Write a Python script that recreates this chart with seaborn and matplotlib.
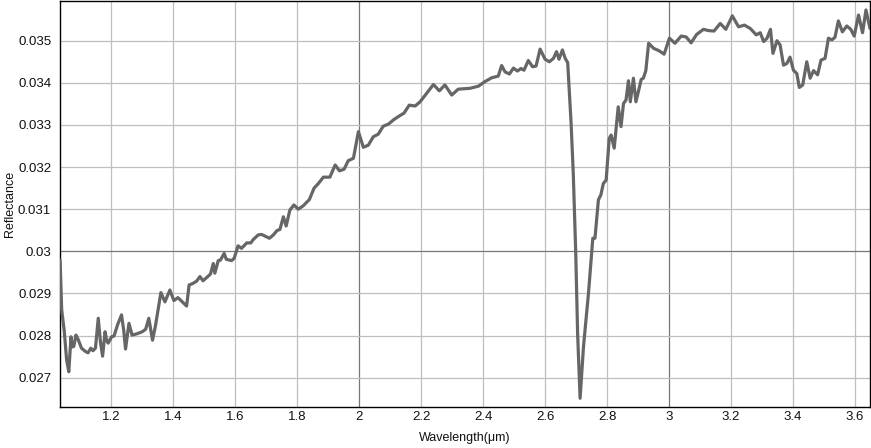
import numpy as np
import pandas as pd
import matplotlib
matplotlib.use("Agg")
import matplotlib.pyplot as plt
import seaborn as sns
from matplotlib.ticker import FuncFormatter, MultipleLocator

wavelength = [
    1.036, 1.041, 1.049, 1.057, 1.064, 1.071, 1.075, 1.080, 1.087, 1.094,
    1.105, 1.118, 1.126, 1.135, 1.142, 1.150, 1.159, 1.166, 1.173, 1.181,
    1.186, 1.191, 1.202, 1.210, 1.221, 1.234, 1.241, 1.247, 1.258, 1.268,
    1.283, 1.301, 1.312, 1.322, 1.334, 1.343, 1.361, 1.374, 1.390, 1.403,
    1.416, 1.430, 1.444, 1.452, 1.465, 1.476, 1.487, 1.497, 1.512, 1.521,
    1.530, 1.535, 1.546, 1.553, 1.565, 1.572, 1.589, 1.597, 1.610, 1.621,
    1.638, 1.651, 1.659, 1.675, 1.686, 1.697, 1.711, 1.724, 1.735, 1.745,
    1.756, 1.765, 1.777, 1.790, 1.804, 1.820, 1.840, 1.855, 1.869, 1.885,
    1.906, 1.923, 1.937, 1.952, 1.965, 1.982, 1.998, 2.014, 2.030, 2.046,
    2.062, 2.078, 2.095, 2.111, 2.127, 2.145, 2.162, 2.181, 2.197, 2.218,
    2.240, 2.259, 2.277, 2.299, 2.320, 2.358, 2.385, 2.406, 2.428, 2.449,
    2.460, 2.471, 2.485, 2.498, 2.511, 2.522, 2.532, 2.546, 2.560, 2.571,
    2.584, 2.600, 2.614, 2.627, 2.637, 2.645, 2.656, 2.665, 2.673, 2.684,
    2.691, 2.699, 2.705, 2.713, 2.724, 2.740, 2.754, 2.761, 2.772, 2.780,
    2.788, 2.797, 2.807, 2.813, 2.823, 2.836, 2.845, 2.853, 2.861, 2.869,
    2.875, 2.885, 2.893, 2.901, 2.910, 2.917, 2.925, 2.934, 2.950, 2.968,
    2.984, 3.001, 3.019, 3.039, 3.055, 3.071, 3.089, 3.111, 3.127, 3.145,
    3.165, 3.183, 3.204, 3.224, 3.243, 3.262, 3.281, 3.294, 3.305, 3.316,
    3.327, 3.335, 3.348, 3.358, 3.369, 3.380, 3.390, 3.401, 3.412, 3.420,
    3.431, 3.444, 3.455, 3.466, 3.479, 3.490, 3.503, 3.514, 3.525, 3.535,
    3.546, 3.559, 3.573, 3.586, 3.597, 3.611, 3.624, 3.635, 3.648,
]

reflectance = [
    0.02979, 0.02861, 0.02813, 0.02742, 0.02714, 0.02797, 0.02773, 0.02774, 0.02801, 0.02791,
    0.02770, 0.02762, 0.02759, 0.02770, 0.02764, 0.02770, 0.02841, 0.02785, 0.02751, 0.02809,
    0.02789, 0.02782, 0.02797, 0.02799, 0.02825, 0.02849, 0.02813, 0.02768, 0.02829, 0.02801,
    0.02804, 0.02809, 0.02815, 0.02841, 0.02789, 0.02821, 0.02902, 0.02880, 0.02908, 0.02883,
    0.02890, 0.02880, 0.02870, 0.02920, 0.02924, 0.02929, 0.02940, 0.02930, 0.02940, 0.02946,
    0.02971, 0.02948, 0.02978, 0.02979, 0.02995, 0.02981, 0.02978, 0.02983, 0.03013, 0.03007,
    0.03020, 0.03020, 0.03028, 0.03039, 0.03040, 0.03036, 0.03031, 0.03039, 0.03049, 0.03052,
    0.03082, 0.03060, 0.03098, 0.03110, 0.03100, 0.03108, 0.03123, 0.03150, 0.03161, 0.03176,
    0.03176, 0.03205, 0.03191, 0.03195, 0.03215, 0.03221, 0.03284, 0.03247, 0.03252, 0.03272,
    0.03278, 0.03297, 0.03302, 0.03312, 0.03320, 0.03328, 0.03347, 0.03345, 0.03355, 0.03375,
    0.03396, 0.03381, 0.03395, 0.03371, 0.03385, 0.03387, 0.03392, 0.03403, 0.03412, 0.03416,
    0.03441, 0.03426, 0.03421, 0.03435, 0.03428, 0.03434, 0.03430, 0.03453, 0.03438, 0.03440,
    0.03480, 0.03456, 0.03450, 0.03458, 0.03474, 0.03456, 0.03478, 0.03458, 0.03448, 0.03304,
    0.03185, 0.02995, 0.02805, 0.02651, 0.02774, 0.02900, 0.03031, 0.03031, 0.03122, 0.03134,
    0.03161, 0.03169, 0.03268, 0.03276, 0.03245, 0.03343, 0.03296, 0.03351, 0.03359, 0.03405,
    0.03355, 0.03411, 0.03355, 0.03379, 0.03408, 0.03411, 0.03429, 0.03494, 0.03482, 0.03476,
    0.03468, 0.03506, 0.03494, 0.03511, 0.03509, 0.03495, 0.03515, 0.03527, 0.03524, 0.03523,
    0.03541, 0.03527, 0.03559, 0.03533, 0.03537, 0.03529, 0.03514, 0.03519, 0.03498, 0.03506,
    0.03527, 0.03470, 0.03500, 0.03490, 0.03442, 0.03446, 0.03461, 0.03430, 0.03422, 0.03389,
    0.03395, 0.03450, 0.03411, 0.03429, 0.03419, 0.03454, 0.03458, 0.03506, 0.03502, 0.03508,
    0.03547, 0.03521, 0.03535, 0.03527, 0.03511, 0.03561, 0.03519, 0.03573, 0.03529,
]

x_label = "Wavelength(μm)"
y_label = "Reflectance"

df = pd.DataFrame({"wavelength": wavelength, "reflectance": reflectance})

sns.set_style("white")
plt.rcParams["font.family"] = ["Liberation Sans", "DejaVu Sans"]

fig = plt.figure(figsize=(8.71, 4.48), dpi=100)
ax = fig.add_axes([59.5 / 871, 1 - 407.3 / 448, (870 - 59.5) / 871, (407.3 - 1) / 448])

sns.lineplot(data=df, x="wavelength", y="reflectance", ax=ax,
             color="#666666", linewidth=2.3, zorder=3)

ax.set_xlim(1.034, 3.648)
ax.set_ylim(0.026296, 0.035943)
ax.xaxis.set_major_locator(MultipleLocator(0.2))
ax.yaxis.set_major_locator(MultipleLocator(0.001))
fmt = FuncFormatter(lambda v, p: "%g" % round(v, 6))
ax.xaxis.set_major_formatter(fmt)
ax.yaxis.set_major_formatter(fmt)

ax.grid(True, color="#bfbfbf", linewidth=0.9, zorder=0)
ax.set_axisbelow(True)
fig.canvas.draw()
for t in ax.xaxis.get_major_ticks():
    v = t.get_loc()
    if abs(v - round(v)) < 1e-6:
        t.gridline.set_color("#777777")
for t in ax.yaxis.get_major_ticks():
    v = t.get_loc()
    if abs(v - 0.03) < 1e-7:
        t.gridline.set_color("#777777")

ax.tick_params(axis="x", length=0, labelsize=9.5, colors="#111111", pad=3)
ax.tick_params(axis="y", length=0, labelsize=9.5, colors="#111111", pad=6)
for s in ax.spines.values():
    s.set_visible(True)
    s.set_color("black")
    s.set_linewidth(1.0)

ax.set_xlabel(x_label, fontsize=9, color="#111111")
ax.set_ylabel(y_label, fontsize=9, color="#111111")
ax.xaxis.label.set_va("center")
ax.xaxis.set_label_coords(0.5, -(438 - 407.3) / 406.3)
ax.yaxis.label.set_va("center")
ax.yaxis.label.set_ha("center")
ax.yaxis.set_label_coords(-(59.5 - 10) / 810.5, 0.5)

fig.savefig("out.png", dpi=100)
